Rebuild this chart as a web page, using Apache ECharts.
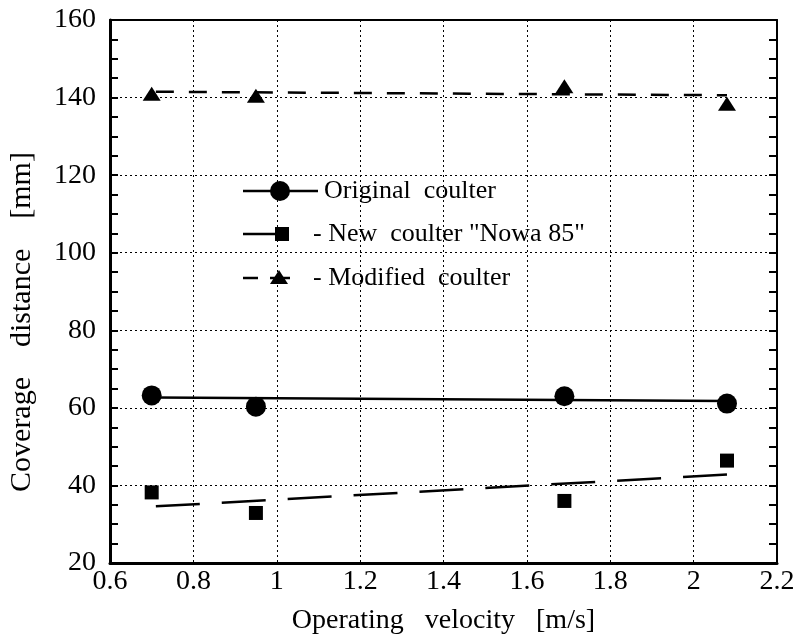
<!DOCTYPE html>
<html><head><meta charset="utf-8">
<script src="https://cdn.jsdelivr.net/npm/echarts@6/dist/echarts.min.js"></script>
<style>html,body{margin:0;padding:0;background:#fff}#c{width:796px;height:640px}</style>
</head><body><div id="c"></div>
<script>
var xTicks = [0.6, 0.8, 1.0, 1.2, 1.4, 1.6, 1.8, 2.0, 2.2];
var yTicks = [20, 40, 60, 80, 100, 120, 140, 160];
var velocity = [0.70, 0.95, 1.69, 2.08];
var originalCoulter = [63.2, 60.3, 63.0, 61.1];
var newCoulter = [38.2, 32.9, 36.0, 46.4];
var modifiedCoulter = [141.0, 140.5, 142.9, 138.4];
var fitX = [0.71, 2.08];
var fitOriginal = [62.7, 61.8];
var fitNew = [34.6, 42.8];
var fitModified = [141.5, 140.6];
var seriesNames = ['Original  coulter', '- New  coulter "Nowa 85"', '- Modified  coulter'];
var xTitle = 'Operating   velocity   [m/s]';
var yTitle = 'Coverage    distance    [mm]';

function pairs(xs, ys) { return xs.map(function (x, i) { return [x, ys[i]]; }); }

var FAM = 'Liberation Serif';
var chart = echarts.init(document.getElementById('c'));
var triPath = 'path://M0,14 L9,0 L18,14 Z';

var option = {
  animation: false,
  backgroundColor: '#fff',
  textStyle: { fontFamily: FAM, color: '#000' },
  grid: { left: 110, right: 19, top: 20, bottom: 77, containLabel: false, outerBoundsMode: 'none' },
  xAxis: [{
    type: 'value', min: xTicks[0], max: xTicks[xTicks.length - 1], interval: 0.2,
    name: xTitle, nameLocation: 'middle', nameGap: 44,
    nameTextStyle: { fontFamily: FAM, fontSize: 28, color: '#000' },
    axisLine: { lineStyle: { color: '#000', width: 3 } },
    axisTick: { show: false },
    axisLabel: { fontFamily: FAM, fontSize: 28, color: '#000', margin: 5 },
    splitLine: { show: true, lineStyle: { color: '#000', type: [2, 3], width: 1 } }
  }, {
    type: 'value', position: 'top', min: xTicks[0], max: xTicks[xTicks.length - 1], interval: 0.2,
    axisLine: { show: true, lineStyle: { color: '#000', width: 2 } },
    axisTick: { show: false }, axisLabel: { show: false }, splitLine: { show: false }
  }],
  yAxis: [{
    type: 'value', min: yTicks[0], max: yTicks[yTicks.length - 1], interval: 20,
    axisLine: { show: true, lineStyle: { color: '#000', width: 3 } },
    axisTick: { show: true, inside: true, length: 8, lineStyle: { color: '#000', width: 2 } },
    minorTick: { show: true, splitNumber: 4, length: 8, lineStyle: { color: '#000', width: 2 } },
    axisLabel: { fontFamily: FAM, fontSize: 28, color: '#000', margin: 14 },
    splitLine: { show: true, lineStyle: { color: '#000', type: [2, 3], width: 1 } }
  }, {
    type: 'value', position: 'right', min: yTicks[0], max: yTicks[yTicks.length - 1], interval: 20,
    axisLine: { show: true, lineStyle: { color: '#000', width: 2 } },
    axisTick: { show: true, inside: true, length: 8, lineStyle: { color: '#000', width: 2 } },
    minorTick: { show: true, splitNumber: 4, length: 8, lineStyle: { color: '#000', width: 2 } },
    axisLabel: { show: false }, splitLine: { show: false }
  }],
  series: [
    { name: 'fit1', type: 'line', data: pairs(fitX, fitOriginal), symbol: 'none',
      lineStyle: { color: '#000', width: 2.5 }, z: 3 },
    { name: 'fit2', type: 'line', data: pairs(fitX, fitNew), symbol: 'none',
      lineStyle: { color: '#000', width: 2.5, type: [44, 22] }, z: 3 },
    { name: 'fit3', type: 'line', data: pairs(fitX, fitModified), symbol: 'none',
      lineStyle: { color: '#000', width: 2.5, type: [18, 15] }, z: 3 },
    { name: seriesNames[0], type: 'scatter', data: pairs(velocity, originalCoulter),
      symbol: 'circle', symbolSize: 20, itemStyle: { color: '#000', opacity: 1 }, z: 4 },
    { name: seriesNames[1], type: 'scatter', data: pairs(velocity, newCoulter),
      symbol: 'rect', symbolSize: 14, itemStyle: { color: '#000', opacity: 1 }, z: 4 },
    { name: seriesNames[2], type: 'scatter', data: pairs(velocity, modifiedCoulter),
      symbol: triPath, symbolSize: [18, 14], itemStyle: { color: '#000', opacity: 1 }, z: 4 }
  ],
  graphic: [
    { type: 'text', x: 22, y: 322, rotation: Math.PI / 2,
      style: { text: yTitle, font: '30px ' + FAM, fill: '#000', align: 'center', verticalAlign: 'middle' }, z: 10 },
    { type: 'line', shape: { x1: 243, y1: 191, x2: 318, y2: 191 }, style: { stroke: '#000', lineWidth: 2.5 }, z: 10 },
    { type: 'circle', shape: { cx: 280, cy: 191, r: 10 }, style: { fill: '#000' }, z: 10 },
    { type: 'text', x: 324, y: 191, style: { text: seriesNames[0], font: '26px ' + FAM, fill: '#000', verticalAlign: 'middle' }, z: 10 },
    { type: 'line', shape: { x1: 243, y1: 234, x2: 278, y2: 234 }, style: { stroke: '#000', lineWidth: 2.5 }, z: 10 },
    { type: 'rect', shape: { x: 275, y: 227, width: 14, height: 14 }, style: { fill: '#000' }, z: 10 },
    { type: 'text', x: 313, y: 234, style: { text: seriesNames[1], font: '26px ' + FAM, fill: '#000', verticalAlign: 'middle' }, z: 10 },
    { type: 'line', shape: { x1: 243, y1: 278, x2: 258, y2: 278 }, style: { stroke: '#000', lineWidth: 2.5 }, z: 10 },
    { type: 'line', shape: { x1: 270, y1: 278, x2: 290, y2: 278 }, style: { stroke: '#000', lineWidth: 2.5 }, z: 10 },
    { type: 'polygon', shape: { points: [[270, 284], [279, 270], [288, 284]] }, style: { fill: '#000' }, z: 10 },
    { type: 'text', x: 313, y: 278, style: { text: seriesNames[2], font: '26px ' + FAM, fill: '#000', verticalAlign: 'middle' }, z: 10 }
  ]
};
chart.setOption(option);
</script></body></html>
